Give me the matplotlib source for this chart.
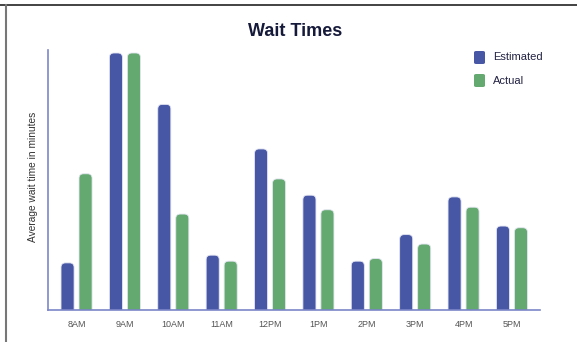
import numpy as np
import matplotlib
matplotlib.use("Agg")
import matplotlib.pyplot as plt
from matplotlib.patches import FancyBboxPatch
from matplotlib.lines import Line2D

hours = ["8AM", "9AM", "10AM", "11AM", "12PM", "1PM", "2PM", "3PM", "4PM", "5PM"]
estimated = [5.5, 30.0, 24.0, 6.4, 18.8, 13.4, 5.7, 8.8, 13.2, 9.8]
actual = [15.9, 30.0, 11.2, 5.7, 15.3, 11.7, 6.0, 7.7, 12.0, 9.6]

blue = "#4757a6"
green = "#64a96f"
axis_col = "#7c86c8"

fig = plt.figure(figsize=(5.77, 3.42), dpi=100)
ax = fig.add_axes([48/577, 1 - 310/342, (540-48)/577, 260/342])

x = np.arange(len(hours))
w = 0.27
off = 0.186
ymax = 30.35
# rounding aspect so the corners look round in pixels
xpx = 48.4
ypx = 260 / ymax
r = 4.5 / xpx


def rbar(xc, h, color):
    p = FancyBboxPatch((xc - w/2, -2), w, h + 2,
                       boxstyle=f"round,pad=0,rounding_size={r}",
                       mutation_aspect=xpx/ypx,
                       fc=color, ec="#e4e6f2", lw=0.6, clip_on=True)
    ax.add_patch(p)


for i in range(len(hours)):
    rbar(x[i] - off, estimated[i], blue)
    rbar(x[i] + off, actual[i], green)

ax.set_xlim(-0.59, 9.58)
ax.set_ylim(0, ymax)
ax.set_xticks(x)
ax.set_xticklabels(hours, fontsize=6.5, color="#555555", family="Liberation Sans")
ax.tick_params(axis="x", length=0, pad=7)
ax.set_yticks([])
for s in ["top", "right"]:
    ax.spines[s].set_visible(False)
for s in ["left", "bottom"]:
    ax.spines[s].set_color(axis_col)
    ax.spines[s].set_linewidth(1.2)

fig.text(33/577, 1 - 177/342, "Average wait time in minutes", rotation=90,
         ha="center", va="center", fontsize=7.3, color="#333333", family="Liberation Sans")
fig.text(295/577, 1 - 31/342, "Wait Times", ha="center", va="center",
         fontsize=13, fontweight="bold", color="#161a3a", family="Liberation Sans")

# legend
for yy, col, lab in [(57.5, blue, "Estimated"), (80.5, green, "Actual")]:
    sq = FancyBboxPatch((474/577, 1 - (yy+6.5)/342), 11/577, 13/342,
                        boxstyle="round,pad=0,rounding_size=0.004",
                        transform=fig.transFigure, fc=col, ec="none")
    fig.patches.append(sq)
    fig.text(493/577, 1 - yy/342, lab, ha="left", va="center", fontsize=8,
             color="#222244", family="Liberation Sans")

# page frame edges
fig.lines.append(Line2D([0, 1], [1 - 5/342, 1 - 5/342], transform=fig.transFigure,
                        color="#222222", lw=1.2))
fig.lines.append(Line2D([6/577, 6/577], [0, 1 - 5/342], transform=fig.transFigure,
                        color="#777777", lw=1.5))

fig.savefig("out.png", dpi=100)
